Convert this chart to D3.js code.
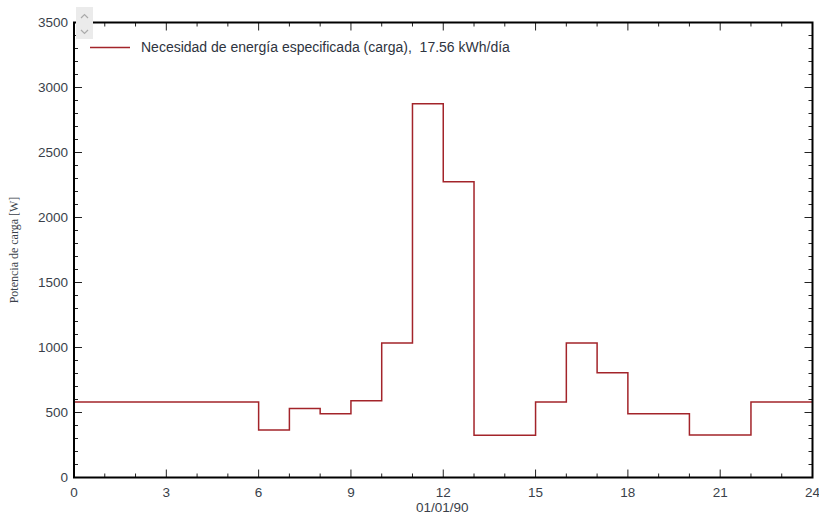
<!DOCTYPE html>
<html>
<head>
<meta charset="utf-8">
<script src="https://cdn.jsdelivr.net/npm/d3@7"></script>
<style>
  body { margin: 0; background: #fff; }
  svg { display: block; font-family: "Liberation Sans", Arial, sans-serif; }
</style>
</head>
<body>
<svg id="chart" width="819" height="515"></svg>
<script>
// hourly load profile (step per hour)
const hours = [0, 1, 2, 3, 4, 5, 6, 7, 8, 9, 10, 11, 12, 13, 14, 15, 16, 17, 18, 19, 20, 21, 22, 23];
const load = [580, 580, 580, 580, 580, 580, 365, 530, 490, 590, 1035, 2875, 2275, 325, 325, 580, 1035, 805, 490, 490, 327, 327, 580, 580];
const xTicks = [0, 3, 6, 9, 12, 15, 18, 21, 24];
const yTicks = [0, 500, 1000, 1500, 2000, 2500, 3000, 3500];
const legendLabel = 'Necesidad de energía especificada (carga),  17.56 kWh/día';
const xTitle = '01/01/90';
const yTitle = 'Potencia de carga [W]';

const svg = d3.select('#chart');
const margin = { left: 74, right: 6.5, top: 22.5, bottom: 37.5 };
const width = 819 - margin.left - margin.right,
    height = 515 - margin.top - margin.bottom;

const x = d3.scaleLinear().domain([0, 24]).range([0, width]);
const y = d3.scaleLinear().domain([0, 3500]).range([height, 0]);

const g = svg.append('g').attr('transform', `translate(${margin.left},${margin.top})`);

// step line
const pts = hours.map((h, i) => [h, load[i]]);
pts.push([24, load[load.length - 1]]);
const line = d3.line()
    .x(d => x(d[0]))
    .y(d => y(d[1]))
    .curve(d3.curveStepAfter);

g.append('path')
    .datum(pts)
    .attr('d', line)
    .attr('fill', 'none')
    .attr('stroke', '#a3242a')
    .attr('stroke-width', 1.5);

// ticks (inside, on all four sides)
const tickColor = '#222';
const xMinor = d3.range(0, 25, 1);
const yMinor = d3.range(0, 3501, 100);

xMinor.forEach(v => {
    const major = v % 3 === 0;
    const len = major ? 8 : 4;
    g.append('line').attr('x1', x(v)).attr('x2', x(v)).attr('y1', height).attr('y2', height - len)
        .attr('stroke', tickColor).attr('stroke-width', 1);
    g.append('line').attr('x1', x(v)).attr('x2', x(v)).attr('y1', 0).attr('y2', len)
        .attr('stroke', tickColor).attr('stroke-width', 1);
});
yMinor.forEach(v => {
    const major = v % 500 === 0;
    const len = major ? 8 : 4;
    g.append('line').attr('x1', 0).attr('x2', len).attr('y1', y(v)).attr('y2', y(v))
        .attr('stroke', tickColor).attr('stroke-width', 1);
    g.append('line').attr('x1', width).attr('x2', width - len).attr('y1', y(v)).attr('y2', y(v))
        .attr('stroke', tickColor).attr('stroke-width', 1);
});

// frame
g.append('rect')
    .attr('x', 0).attr('y', 0)
    .attr('width', width).attr('height', height)
    .attr('fill', 'none')
    .attr('stroke', '#000')
    .attr('stroke-width', 2);

// tick labels
g.selectAll('.xl').data(xTicks).enter().append('text')
    .attr('x', d => x(d))
    .attr('y', height + 19)
    .attr('text-anchor', 'middle')
    .attr('font-size', 13.5)
    .attr('fill', '#3a3f4a')
    .text(d => d);

g.selectAll('.yl').data(yTicks).enter().append('text')
    .attr('x', -6)
    .attr('y', d => y(d))
    .attr('dy', '0.35em')
    .attr('text-anchor', 'end')
    .attr('font-size', 13.5)
    .attr('fill', '#3a3f4a')
    .text(d => d);

// axis titles
svg.append('text')
    .attr('x', margin.left + width / 2 - 1)
    .attr('y', 512)
    .attr('text-anchor', 'middle')
    .attr('font-size', 13.5)
    .attr('fill', '#3a3f4a')
    .text(xTitle);

svg.append('text')
    .attr('transform', `translate(18,${margin.top + height / 2}) rotate(-90)`)
    .attr('text-anchor', 'middle')
    .attr('font-family', '"Liberation Serif", "DejaVu Serif", serif')
    .attr('font-size', 12)
    .attr('fill', '#3a3f4a')
    .text(yTitle);

// legend
g.append('line')
    .attr('x1', 16).attr('x2', 56)
    .attr('y1', 25).attr('y2', 25)
    .attr('stroke', '#a3242a').attr('stroke-width', 1.5);
g.append('text')
    .attr('x', 67).attr('y', 25)
    .attr('dy', '0.35em')
    .attr('font-size', 14)
    .attr('fill', '#2e3440')
    .style('white-space', 'pre')
    .text(legendLabel);

// little scroll buttons
const sb = svg.append('g').attr('transform', 'translate(76,7)');
sb.append('rect').attr('width', 17).attr('height', 32).attr('fill', '#ebebeb');
sb.append('path').attr('d', 'M5,11 L8.5,7.5 L12,11').attr('fill', 'none').attr('stroke', '#aaa').attr('stroke-width', 1.2);
sb.append('path').attr('d', 'M5,23 L8.5,26.5 L12,23').attr('fill', 'none').attr('stroke', '#aaa').attr('stroke-width', 1.2);
</script>
</body>
</html>
